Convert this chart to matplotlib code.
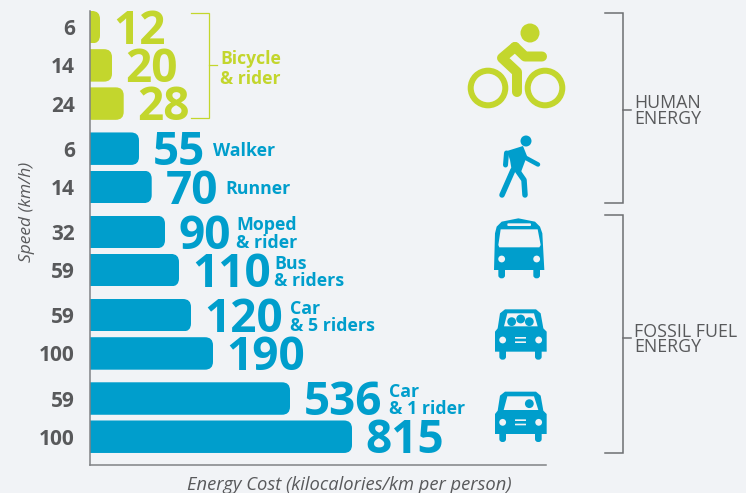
import numpy as np
import matplotlib
matplotlib.use("Agg")
import matplotlib.pyplot as plt
from matplotlib.patches import FancyBboxPatch, Circle, Polygon, Rectangle

plt.rcParams['font.family'] = ['Open Sans', 'DejaVu Sans']

# ---------- data ----------
speeds = [6, 14, 24, 6, 14, 32, 59, 59, 100, 59, 100]
energy = [12, 20, 28, 55, 70, 90, 110, 120, 190, 536, 815]
modes = ["", "", "", "Walker", "Runner", "Moped\n& rider", "Bus\n& riders",
         "Car\n& 5 riders", "", "Car\n& 1 rider", ""]
group_sizes = [3, 2, 2, 2, 2]
bicycle_label = "Bicycle\n& rider"
xlabel = "Energy Cost (kilocalories/km per person)"
ylabel = "Speed (km/h)"
human_label = "HUMAN\nENERGY"
fossil_label = "FOSSIL FUEL\nENERGY"

# The original's bar lengths are not proportional: a non-linear value scale
scale_values = [0, 12, 20, 28, 55, 70, 90, 110, 120, 190, 536, 815, 1500]
scale_lengths = [0, 10, 22, 33.7, 49, 61.7, 75, 89, 101, 123, 200, 262, 456]

# ---------- style ----------
BG = '#f1f3f6'
BLUE = '#009ecc'
GREEN = '#c3d62d'
GRAY = '#58595b'
LINE = '#6d6e71'
W, H = 746, 493

fig = plt.figure(figsize=(W / 100, H / 100), dpi=100, facecolor=BG)
ax = fig.add_axes([90 / W, 1 - 465 / H, (546 - 90) / W, (465 - 11) / H])
ax.set_facecolor('none')

# overlay in pixel coordinates for brackets and pictograms
ov = fig.add_axes([0, 0, 1, 1], facecolor='none')
ov.set_xlim(0, W)
ov.set_ylim(H, 0)
ov.axis('off')

ax.set_xscale('function', functions=(
    lambda v: np.interp(v, scale_values, scale_lengths),
    lambda p: np.interp(p, scale_lengths, scale_values)))
ax.set_xlim(0, 1500)
ax.set_ylim(11.46, -0.424)

groups = np.repeat(np.arange(len(group_sizes)), group_sizes)
rows = np.arange(len(energy)) + 0.18 * groups
colors = [GREEN if g == 0 else BLUE for g in groups]

bars = ax.barh(rows, energy, height=0.85, color=colors, linewidth=0)

for spine in ('top', 'right'):
    ax.spines[spine].set_visible(False)
for spine in ('left', 'bottom'):
    ax.spines[spine].set_color('#808285')
    ax.spines[spine].set_linewidth(1.1)
ax.set_xticks([])
ax.minorticks_off()
ax.xaxis.set_major_formatter(matplotlib.ticker.NullFormatter())
ax.xaxis.set_minor_formatter(matplotlib.ticker.NullFormatter())
ax.set_yticks(rows)
ax.set_yticklabels(speeds, fontsize=15, fontweight='bold', color=GRAY)
ax.tick_params(axis='y', length=0, pad=11)

# rounded right-hand bar ends
inv = ov.transData.inverted()
for b in bars:
    (x0, y0), (x1, y1) = inv.transform(ax.transData.transform(
        [(b.get_x(), b.get_y()), (b.get_x() + b.get_width(), b.get_y() + b.get_height())]))
    top, bot = min(y0, y1), max(y0, y1)
    r = 8
    clip = FancyBboxPatch((x0 - 2 * r, top + r), x1 - x0 + 2 * r - r, bot - top - 2 * r,
                          boxstyle=f"round,pad={r},rounding_size={r}",
                          transform=ov.transData, linewidth=0)
    b.set_clip_path(clip)

# value labels and mode labels
for y, v, c, name, mode_dx in zip(
        rows, energy, colors, modes,
        [0, 0, 0, 61, 60, 58, 82, 86, 0, 86, 0]):
    ax.annotate(str(v), (v, y), xytext=(9.8, -3), textcoords='offset points',
                ha='left', va='center', fontsize=33, fontweight='bold', color=c,
                annotation_clip=False)
    if name:
        ax.annotate(name, (v, y), xytext=(9.5 + mode_dx * 0.72, -1.5), textcoords='offset points',
                    ha='left', va='center', fontsize=12.8, fontweight='bold', color=c,
                    linespacing=0.95, annotation_clip=False)

ov.text(220.5, 69, bicycle_label, ha='left', va='center', fontsize=12.6, fontweight='bold',
        color=GREEN, linespacing=1.15)

fig.text(349 / W, 1 - 485 / H, xlabel, ha='center', va='center', fontsize=13.2,
         style='italic', color=GRAY)
fig.text(27 / W, 1 - 212 / H, ylabel, ha='center', va='center', rotation=90, fontsize=12.5,
         style='italic', color=GRAY)


def bracket(x0, x1, y0, y1, ytick, color, lw):
    ov.plot([x0, x1, x1, x0], [y0, y0, y1, y1], color=color, lw=lw, solid_joinstyle='miter')
    ov.plot([x1, x1 + 8], [ytick, ytick], color=color, lw=lw)


bracket(191, 209, 12.5, 118, 65, GREEN, 0.9)
bracket(605, 623, 13, 203, 110, LINE, 1.1)
bracket(605, 623, 215, 453, 338, LINE, 1.1)
ov.text(634.5, 111, human_label, ha='left', va='center', fontsize=12.8, color=GRAY, linespacing=0.85)
ov.text(634.5, 339.5, fossil_label, ha='left', va='center', fontsize=12.8, color=GRAY, linespacing=0.85)

# ---------- pictograms ----------
PX = 0.72  # px -> pt


def stroke(xs, ys, color, w):
    ov.plot(xs, ys, color=color, lw=w * PX, solid_capstyle='round', solid_joinstyle='round')


# bicycle
ov.add_patch(Circle((530, 33), 9.5, fc=GREEN, lw=0))
for cx in (488, 545):
    ov.add_patch(Circle((cx, 88), 17.3, fc='none', ec=GREEN, lw=6 * PX))
stroke([515, 525, 542], [47, 56.5, 56.5], GREEN, 10)
stroke([515, 502, 517, 517], [47, 58, 72, 92], GREEN, 10)

# walker
ov.add_patch(Circle((526, 141), 5.5, fc=BLUE, lw=0))
ov.add_patch(Polygon([(507, 151), (523, 146), (527, 156), (521, 172), (512, 172), (510, 160)],
                     fc=BLUE, lw=0))
stroke([506.5, 505.5], [153, 165], BLUE, 5)
stroke([526, 538], [158, 164.5], BLUE, 4.5)
stroke([513, 502], [170, 195], BLUE, 5.5)
stroke([517, 524, 525], [170, 180, 195], BLUE, 5.5)


def z(points, dy=0):
    return [(450 + px / 3, 210 + (py + dy) / 3) for px, py in points]


def zc(px, py, dy=0):
    return (450 + px / 3, 210 + (py + dy) / 3)


def zrect(x0, y0, x1, y1, color, r=6, dy=0):
    (a, b), (c, d) = z([(x0, y0), (x1, y1)], dy)
    ov.add_patch(FancyBboxPatch((a + r / 3, b + r / 3), c - a - 2 * r / 3, d - b - 2 * r / 3,
                                boxstyle=f"round,pad={r / 3},rounding_size={r / 3}",
                                fc=color, lw=0))


# bus
ov.add_patch(Polygon(z([(135, 70), (140, 50), (155, 35), (205, 25), (255, 35), (270, 50), (277, 70),
                        (283, 180), (132, 180)]), fc=BLUE, lw=0))
ov.add_patch(Polygon(z([(152, 58), (263, 58), (272, 105), (268, 112), (148, 112), (145, 105)]),
                     fc=BG, lw=0))
zrect(172, 40, 243, 48, BG, r=3)
for px in (155, 260):
    ov.add_patch(Circle(zc(px, 147), 3.4, fc=BG, lw=0))
for a, b in ((145, 165), (250, 270)):
    zrect(a, 170, b, 205, BLUE, r=9)


# cars
def car(dy, window, heads):
    ov.add_patch(Polygon(z([(150, 310), (165, 298), (258, 298), (272, 310), (280, 355), (290, 365),
                            (290, 425), (135, 425), (135, 365), (143, 355)], dy), fc=BLUE, lw=0))
    ov.add_patch(Polygon(z(window, dy), fc=BG, lw=0))
    for hx, hy in heads:
        ov.add_patch(Circle(zc(hx, hy, dy), 4.4, fc=BLUE, lw=0))
    for px in (158, 266):
        ov.add_patch(Circle(zc(px, 390, dy), 3.4, fc=BG, lw=0))
    for py in (381, 394):
        zrect(195, py, 228, py + 5, BG, r=1, dy=dy)
    for a, b in ((148, 168), (255, 275)):
        zrect(a, 415, b, 449, BLUE, r=9, dy=dy)


car(0, [(172, 310), (252, 310), (263, 349), (162, 349)], [(185, 335), (212, 327), (238, 335)])
car(247, [(172, 312), (252, 312), (265, 353), (161, 353)], [(238, 334)])

fig.savefig('out.png', dpi=100, facecolor=BG)
